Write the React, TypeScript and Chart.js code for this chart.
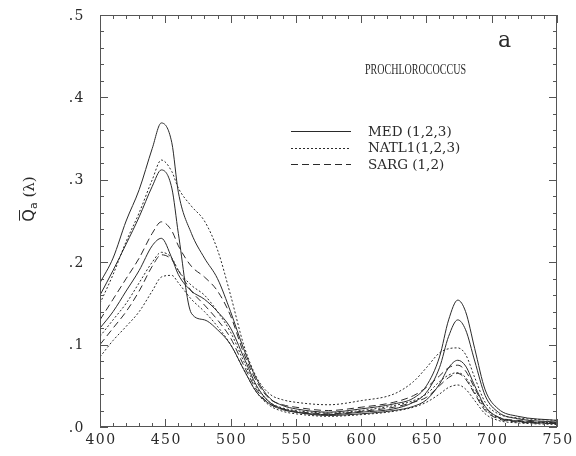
import React, { useEffect, useRef } from "react";
import { Chart, registerables } from "chart.js";
Chart.register(...registerables);

// ---------- data ----------
const wavelengths = [400, 410, 420, 430, 440, 447, 455, 460, 470, 480, 490, 500, 510, 520, 530, 540, 550, 575, 600, 625, 640, 650, 660, 667, 674, 680, 687, 695, 705, 720, 750];

const med1 = [0.175, 0.205, 0.250, 0.288, 0.338, 0.369, 0.345, 0.285, 0.235, 0.205, 0.180, 0.140, 0.095, 0.058, 0.035, 0.026, 0.022, 0.018, 0.022, 0.028, 0.035, 0.050, 0.085, 0.130, 0.154, 0.140, 0.095, 0.045, 0.022, 0.013, 0.008];
const med2 = [0.160, 0.190, 0.222, 0.255, 0.292, 0.312, 0.290, 0.235, 0.138, 0.130, 0.118, 0.100, 0.070, 0.042, 0.028, 0.021, 0.018, 0.015, 0.018, 0.022, 0.030, 0.042, 0.072, 0.110, 0.130, 0.118, 0.080, 0.038, 0.018, 0.010, 0.006];
const med3 = [0.120, 0.140, 0.165, 0.190, 0.220, 0.229, 0.205, 0.185, 0.165, 0.155, 0.140, 0.120, 0.085, 0.050, 0.030, 0.022, 0.018, 0.014, 0.016, 0.020, 0.025, 0.033, 0.052, 0.072, 0.081, 0.074, 0.050, 0.025, 0.012, 0.007, 0.004];
const natl1a = [0.150, 0.185, 0.225, 0.260, 0.300, 0.324, 0.310, 0.290, 0.268, 0.250, 0.215, 0.160, 0.100, 0.060, 0.040, 0.033, 0.030, 0.027, 0.032, 0.040, 0.055, 0.072, 0.090, 0.095, 0.096, 0.088, 0.060, 0.030, 0.016, 0.011, 0.008];
const natl1b = [0.110, 0.130, 0.150, 0.175, 0.200, 0.212, 0.205, 0.190, 0.172, 0.160, 0.140, 0.115, 0.080, 0.048, 0.030, 0.023, 0.020, 0.017, 0.020, 0.026, 0.032, 0.040, 0.055, 0.063, 0.066, 0.060, 0.042, 0.022, 0.011, 0.007, 0.005];
const natl1c = [0.085, 0.105, 0.122, 0.140, 0.165, 0.182, 0.184, 0.175, 0.155, 0.140, 0.122, 0.100, 0.070, 0.042, 0.026, 0.019, 0.016, 0.013, 0.015, 0.019, 0.024, 0.030, 0.040, 0.048, 0.051, 0.046, 0.032, 0.016, 0.008, 0.005, 0.003];
const sarg1 = [0.130, 0.155, 0.180, 0.205, 0.235, 0.249, 0.238, 0.220, 0.195, 0.182, 0.165, 0.135, 0.090, 0.055, 0.034, 0.027, 0.024, 0.020, 0.024, 0.030, 0.038, 0.048, 0.062, 0.072, 0.075, 0.068, 0.047, 0.024, 0.012, 0.008, 0.005];
const sarg2 = [0.100, 0.120, 0.140, 0.165, 0.195, 0.209, 0.203, 0.190, 0.165, 0.148, 0.130, 0.108, 0.075, 0.045, 0.028, 0.022, 0.019, 0.016, 0.019, 0.024, 0.030, 0.036, 0.050, 0.060, 0.065, 0.058, 0.040, 0.020, 0.010, 0.006, 0.004];

const xTickValues = [400, 450, 500, 550, 600, 650, 700, 750];
const xTickLabels = ["400", "450", "500", "550", "600", "650", "700", "750"];
const yTickValues = [0, 0.1, 0.2, 0.3, 0.4, 0.5];
const yTickLabels = [".0", ".1", ".2", ".3", ".4", ".5"];
const legendLabels = ["MED (1,2,3)", "NATL1(1,2,3)", "SARG (1,2)"];
const panelTitle = "PROCHLOROCOCCUS";
const panelLetter = "a";

// ---------- styles ----------
const INK = "#2a2a2a";
const FRAME = "#555";
const SOLID: number[] = [];
const DOTTED = [2, 2];
const DASHED = [7, 4];
const legendDashes = [SOLID, DOTTED, DASHED];

const seriesDefs = [
  { label: "MED 1", data: med1, dash: SOLID },
  { label: "MED 2", data: med2, dash: SOLID },
  { label: "MED 3", data: med3, dash: SOLID },
  { label: "NATL1 1", data: natl1a, dash: DOTTED },
  { label: "NATL1 2", data: natl1b, dash: DOTTED },
  { label: "NATL1 3", data: natl1c, dash: DOTTED },
  { label: "SARG 1", data: sarg1, dash: DASHED },
  { label: "SARG 2", data: sarg2, dash: DASHED },
];

const SERIF = "'DejaVu Serif', 'Liberation Serif', serif";
const TIMES = "'Liberation Serif', serif";
const SANS = "'DejaVu Sans', sans-serif";

const overlay = {
  id: "overlay",
  afterDatasetsDraw(chart: any) {
    const ctx: CanvasRenderingContext2D = chart.ctx;
    const { left, top, right, bottom } = chart.chartArea;
    const x = chart.scales.x;
    const y = chart.scales.y;
    ctx.save();

    // frame
    ctx.strokeStyle = FRAME;
    ctx.lineWidth = 1;
    ctx.setLineDash([]);
    ctx.strokeRect(left + 0.5, top + 0.5, right - left - 1, bottom - top - 1);

    // x ticks (inward, top and bottom)
    ctx.beginPath();
    for (let v = 400; v <= 750; v += 10) {
      const px = Math.round(x.getPixelForValue(v)) + 0.5;
      const len = v % 50 === 0 ? 8 : 4;
      ctx.moveTo(px, bottom);
      ctx.lineTo(px, bottom - len);
      ctx.moveTo(px, top);
      ctx.lineTo(px, top + len);
    }
    // y ticks (inward, left and right)
    for (let i = 0; i <= 25; i++) {
      const v = i * 0.02;
      const py = Math.round(y.getPixelForValue(v)) + 0.5;
      const len = i % 5 === 0 ? 8 : 4;
      ctx.moveTo(left, py);
      ctx.lineTo(left + len, py);
      ctx.moveTo(right, py);
      ctx.lineTo(right - len, py);
    }
    ctx.stroke();

    // tick labels
    ctx.fillStyle = INK;
    ctx.font = `14px ${SERIF}`;
    (ctx as any).letterSpacing = "1.5px";
    ctx.textBaseline = "middle";
    ctx.textAlign = "center";
    xTickValues.forEach((v, i) => {
      ctx.fillText(xTickLabels[i], x.getPixelForValue(v) + 1, bottom + 13);
    });
    ctx.textAlign = "right";
    yTickValues.forEach((v, i) => {
      ctx.fillText(yTickLabels[i], left - 15, y.getPixelForValue(v) + 1);
    });
    (ctx as any).letterSpacing = "0px";

    // y-axis title: Q̄a (λ)
    ctx.save();
    ctx.translate(28, 199);
    ctx.rotate(-Math.PI / 2);
    ctx.textAlign = "left";
    ctx.textBaseline = "alphabetic";
    ctx.font = `16px ${SANS}`;
    const qw = ctx.measureText("Q").width;
    ctx.font = `11px ${SANS}`;
    const aw = ctx.measureText("a").width;
    ctx.font = `15px ${SERIF}`;
    const lw = ctx.measureText(" (λ)").width;
    let sx = -(qw + aw + lw) / 2;
    ctx.font = `16px ${SANS}`;
    ctx.fillText("Q", sx, 6);
    ctx.strokeStyle = INK;
    ctx.lineWidth = 1;
    ctx.beginPath();
    ctx.moveTo(sx + 1, -8.5);
    ctx.lineTo(sx + qw - 1, -8.5);
    ctx.stroke();
    sx += qw;
    ctx.font = `11px ${SANS}`;
    ctx.fillText("a", sx, 9);
    sx += aw;
    ctx.font = `15px ${SERIF}`;
    ctx.fillText(" (λ)", sx, 6);
    ctx.restore();

    // panel title and letter
    ctx.textAlign = "left";
    ctx.textBaseline = "middle";
    ctx.font = `14px ${TIMES}`;
    ctx.fillText(panelTitle, 365, 70, 101);
    ctx.font = `22px ${SERIF}`;
    ctx.fillText(panelLetter, 498, 41);

    // legend
    ctx.font = `13.5px ${SERIF}`;
    const rows = [131, 147.5, 164];
    legendLabels.forEach((lab, i) => {
      ctx.strokeStyle = INK;
      ctx.lineWidth = 1;
      ctx.setLineDash(legendDashes[i]);
      ctx.beginPath();
      ctx.moveTo(291, Math.round(rows[i]) + 0.5);
      ctx.lineTo(351, Math.round(rows[i]) + 0.5);
      ctx.stroke();
      ctx.setLineDash([]);
      ctx.fillText(lab, 368, rows[i] + 1);
    });

    ctx.restore();
  },
};

export default function App() {
  const ref = useRef<HTMLCanvasElement | null>(null);
  useEffect(() => {
    if (!ref.current) return;
    const chart = new Chart(ref.current, {
      type: "line",
      data: {
        datasets: seriesDefs.map((s) => ({
          label: s.label,
          data: wavelengths.map((w, i) => ({ x: w, y: s.data[i] })),
          borderColor: INK,
          borderWidth: 1,
          borderDash: s.dash,
          pointRadius: 0,
          fill: false,
          cubicInterpolationMode: "monotone" as const,
        })),
      },
      options: {
        animation: false,
        responsive: false,
        devicePixelRatio: 1,
        layout: { padding: { left: 100, top: 15, right: 19, bottom: 29 } },
        plugins: { legend: { display: false }, tooltip: { enabled: false }, title: { display: false } },
        scales: {
          x: { type: "linear", min: 400, max: 750, display: false },
          y: { type: "linear", min: 0, max: 0.5, display: false },
        },
      },
      plugins: [overlay],
    });
    return () => chart.destroy();
  }, []);
  return (
    <div style={{ position: "fixed", left: 0, top: 0, width: 576, height: 456, background: "#fff" }}>
      <canvas ref={ref} width={576} height={456} style={{ width: 576, height: 456, display: "block" }} />
    </div>
  );
}
